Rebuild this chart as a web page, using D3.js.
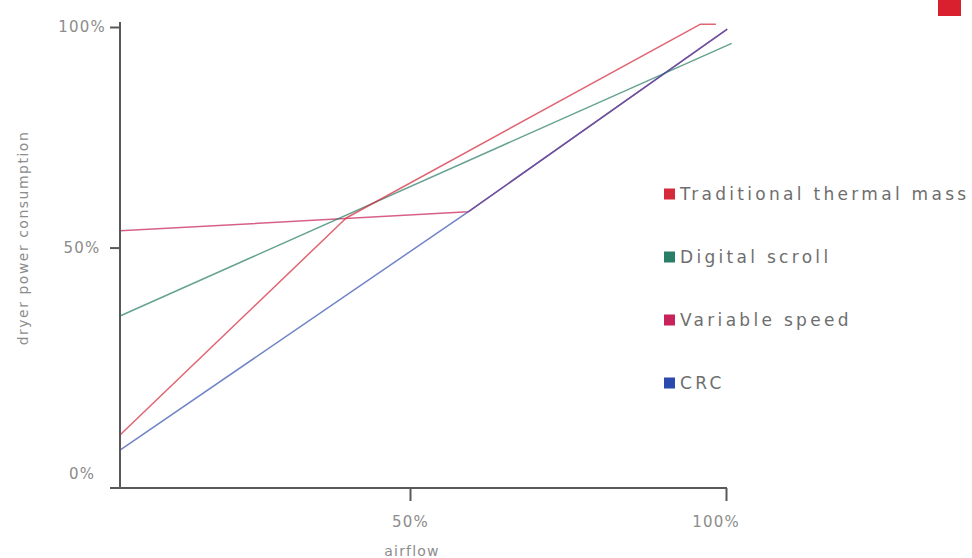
<!DOCTYPE html>
<html>
<head>
<meta charset="utf-8">
<script src="https://cdn.jsdelivr.net/npm/d3@7"></script>
<style>
  html, body { margin: 0; padding: 0; background: #fff; }
  svg { display: block; }
  text { font-family: "DejaVu Sans", sans-serif; }
</style>
</head>
<body>
<svg id="chart" width="972" height="558"></svg>
<script>
// Dryer power consumption (% of full load) against airflow (% of rated flow)
const seriesNames  = ["Traditional thermal mass", "Digital scroll", "Variable speed", "CRC"];
const seriesColors = ["#d42a3b", "#2a7e67", "#c8225c", "#2c49ad"];

const thermalMass   = [{airflow: 0, power: 7.5}, {airflow: 39, power: 56.7}, {airflow: 95.9, power: 100.6}, {airflow: 98.4, power: 100.6}];
const digitalScroll = [{airflow: 0, power: 34.5}, {airflow: 100.9, power: 96.3}];
const variableSpeed = [{airflow: 0, power: 53.8}, {airflow: 59.2, power: 58.1}, {airflow: 100.2, power: 99.5}];
const crc           = [{airflow: 0, power: 4.1}, {airflow: 59.2, power: 58.1}, {airflow: 100.2, power: 99.5}];

const airflowTicks = [50, 100];
const powerTicks   = [0, 50, 100];
const tickLabel = d => d + "%";

const svg = d3.select("#chart");

// the airflow axis has its 50% mark set off-centre, so a piecewise scale is used
const x = d3.scaleLinear().domain([0, 50, 100]).range([120, 410, 726]);
const y = d3.scaleLinear().domain([-4.5, 100]).range([488, 27]);

const axisColor = "#595959";
const labelColor = "#8c8c8c";

// brand mark in the corner
svg.append("rect")
  .attr("x", 938).attr("y", 0).attr("width", 23).attr("height", 16)
  .attr("fill", "#d9202e");

// series lines
const line = d3.line().x(d => x(d.airflow)).y(d => y(d.power));
const drawOrder = [
  {data: variableSpeed, color: seriesColors[2], op: 0.72},
  {data: digitalScroll, color: seriesColors[1], op: 0.72},
  {data: thermalMass,   color: seriesColors[0], op: 0.72},
  {data: crc,           color: seriesColors[3], op: 0.68}
];
svg.append("g").selectAll("path")
  .data(drawOrder)
  .join("path")
  .attr("d", d => line(d.data))
  .attr("fill", "none")
  .attr("stroke", d => d.color)
  .attr("stroke-opacity", d => d.op)
  .attr("stroke-width", 1.5)
  .attr("stroke-linejoin", "round");

// y axis
const yAxis = svg.append("g")
  .attr("transform", `translate(${x(0)},0)`)
  .call(d3.axisLeft(y).tickValues(powerTicks).tickFormat(tickLabel).tickSize(10).tickSizeOuter(0));
yAxis.select(".domain").attr("stroke", axisColor).attr("stroke-width", 2)
  .attr("d", `M0,${y(100) - 5}V${y(-4.5)}`);
yAxis.selectAll(".tick line").attr("stroke", axisColor).attr("stroke-width", 2)
  .filter(d => d === 0).remove();
yAxis.selectAll(".tick text")
  .attr("x", -38).attr("text-anchor", "middle")
  .attr("fill", labelColor).attr("font-size", 15).attr("letter-spacing", 1.2)
  .attr("font-family", "DejaVu Sans, sans-serif");
yAxis.selectAll(".tick").filter(d => d === 0).select("text").attr("dy", "0.68em");

// x axis
const xAxis = svg.append("g")
  .attr("transform", `translate(0,${y(-4.5)})`)
  .call(d3.axisBottom(x).tickValues(airflowTicks).tickFormat(tickLabel).tickSize(13).tickSizeOuter(0));
xAxis.select(".domain").attr("stroke", axisColor).attr("stroke-width", 2)
  .attr("d", `M${x(0) - 10},0H${x(100) + 1}`);
xAxis.selectAll(".tick line").attr("stroke", axisColor).attr("stroke-width", 2);
xAxis.selectAll(".tick text")
  .attr("y", 28)
  .attr("fill", labelColor).attr("font-size", 15).attr("letter-spacing", 1.2)
  .attr("font-family", "DejaVu Sans, sans-serif");
xAxis.selectAll(".tick").filter(d => d === 100).select("text").attr("dx", "-0.7em");

// axis titles
svg.append("text")
  .attr("x", x(50) + 2).attr("y", 556)
  .attr("text-anchor", "middle")
  .attr("fill", labelColor).attr("font-size", 14).attr("letter-spacing", 1.2)
  .text("airflow");

svg.append("text")
  .attr("transform", `translate(28,238) rotate(-90)`)
  .attr("text-anchor", "middle")
  .attr("fill", labelColor).attr("font-size", 14).attr("letter-spacing", 1.5)
  .text("dryer power consumption");

// legend
const legend = svg.append("g").attr("transform", "translate(664,194)")
  .selectAll("g")
  .data(seriesNames)
  .join("g")
  .attr("transform", (d, i) => `translate(0,${i * 63})`);
legend.append("rect")
  .attr("x", 0).attr("y", -5.5).attr("width", 11).attr("height", 11)
  .attr("fill", (d, i) => seriesColors[i]);
legend.append("text")
  .attr("x", 16).attr("y", 6.2)
  .attr("fill", "#6e6e6e").attr("font-size", 17).attr("letter-spacing", 3.3)
  .text(d => d);
</script>
</body>
</html>
